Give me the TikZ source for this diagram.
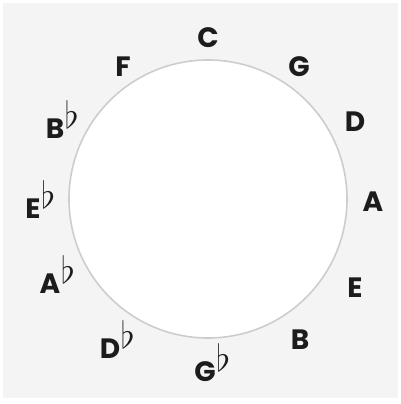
\documentclass[tikz,border=0pt]{standalone}
\usepackage{fontspec}
\setmainfont{Poppins}
\definecolor{paper}{HTML}{F4F4F4}
\definecolor{rim}{HTML}{CDCDCD}
\definecolor{ink}{HTML}{1C1C1C}
\newcommand\flt{\rlap{\kern0.5pt\raisebox{10pt}{\scalebox{1.5}{$\flat$}}}}
\tikzset{fig/.style={x=1pt,y=-1pt,line join=round},
  note/.style={font=\fontsize{28}{28}\selectfont\bfseries,text=ink,inner sep=0pt}}

\begin{document}
\begin{tikzpicture}[fig]
  \useasboundingbox (0,0) rectangle (401,404);
  \fill[paper] (3,3) rectangle (398,398);
  \node[circle,draw=rim,line width=1.6pt,fill=white,minimum size=278pt,inner sep=0pt] (wheel) at (208,199) {};
  % the twelve keys, clockwise from the top
  \foreach \nm/\px/\py/\txt in {kc/208/38/C,kg/299/67/G,kd/355/122/D,ka/373/202/A,
      ke/355/288/E,kb/300/340/B,kgb/205/363/G\flt,kdb/110/340/D\flt,
      kab/50/275/A\flt,keb/33/200/E\flt,kbb/55/120/B\flt,kf/123/67/F}
    \node[note] (\nm) at (\px,\py) {\txt};
\end{tikzpicture}
\end{document}
